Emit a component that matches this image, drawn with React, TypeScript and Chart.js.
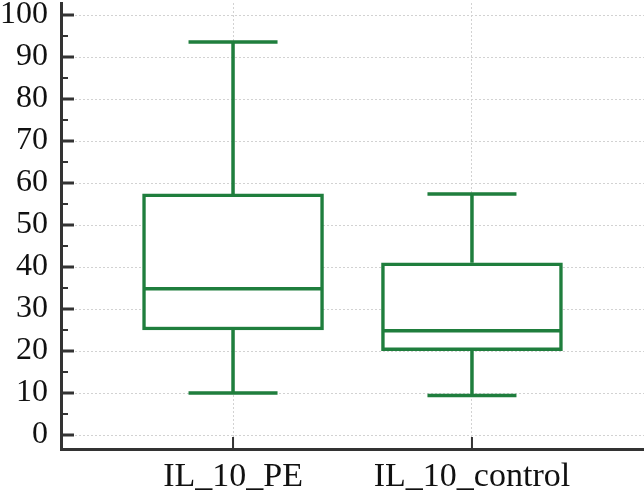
import React, { useEffect, useRef } from 'react';
import { Chart, registerables } from 'chart.js';

Chart.register(...registerables);

const categories = ['IL_10_PE', 'IL_10_control'];
const categoryPositions = [1, 2];
const whiskerLow = [10.0, 9.4];
const quartile1 = [25.0, 20.1];
const medians = [34.8, 24.8];
const quartile3 = [57.4, 41.0];
const whiskerHigh = [93.6, 57.4];
const yTickValues = [0, 10, 20, 30, 40, 50, 60, 70, 80, 90, 100];
const yMinorTickValues = [5, 15, 25, 35, 45, 55, 65, 75, 85, 95];

const GREEN = '#1f7e3d';
const AXIS = '#333333';
const GRID = '#d2d2d2';
const BOX_WIDTH = 181;
const CAP_WIDTH = 89;
const LINE_W = 3.5;

const boxPlugin = {
  id: 'boxWhiskers',
  afterDatasetsDraw(chart: any) {
    const xs = chart.scales.x;
    const ys = chart.scales.y;
    const ctx = chart.ctx;
    ctx.save();
    ctx.strokeStyle = GREEN;
    ctx.lineWidth = LINE_W;
    ctx.lineCap = 'butt';
    categoryPositions.forEach((pos, i) => {
      const cx = xs.getPixelForValue(pos);
      const yMed = ys.getPixelForValue(medians[i]);
      const yQ1 = ys.getPixelForValue(quartile1[i]);
      const yQ3 = ys.getPixelForValue(quartile3[i]);
      const yLo = ys.getPixelForValue(whiskerLow[i]);
      const yHi = ys.getPixelForValue(whiskerHigh[i]);
      ctx.beginPath();
      ctx.moveTo(cx - BOX_WIDTH / 2 + 1, yMed);
      ctx.lineTo(cx + BOX_WIDTH / 2 - 1, yMed);
      ctx.moveTo(cx, yQ3);
      ctx.lineTo(cx, yHi);
      ctx.moveTo(cx, yQ1);
      ctx.lineTo(cx, yLo);
      ctx.moveTo(cx - CAP_WIDTH / 2, yHi);
      ctx.lineTo(cx + CAP_WIDTH / 2, yHi);
      ctx.moveTo(cx - CAP_WIDTH / 2, yLo);
      ctx.lineTo(cx + CAP_WIDTH / 2, yLo);
      ctx.stroke();
    });
    ctx.restore();
  },
  afterDraw(chart: any) {
    const xs = chart.scales.x;
    const ys = chart.scales.y;
    const ctx = chart.ctx;
    const { left, bottom } = chart.chartArea;
    ctx.save();
    ctx.strokeStyle = AXIS;
    ctx.lineWidth = 3;
    ctx.beginPath();
    yTickValues.forEach((v) => {
      const y = ys.getPixelForValue(v);
      ctx.moveTo(left, y);
      ctx.lineTo(left + 13, y);
    });
    ctx.stroke();
    ctx.lineWidth = 2;
    ctx.beginPath();
    yMinorTickValues.forEach((v) => {
      const y = ys.getPixelForValue(v);
      ctx.moveTo(left, y);
      ctx.lineTo(left + 7, y);
    });
    categoryPositions.forEach((p) => {
      const x = xs.getPixelForValue(p);
      ctx.moveTo(x, bottom);
      ctx.lineTo(x, bottom - 12);
    });
    ctx.stroke();
    ctx.restore();
  },
};

export default function App() {
  const canvasRef = useRef<HTMLCanvasElement | null>(null);

  useEffect(() => {
    if (!canvasRef.current) return;
    const chart = new Chart(canvasRef.current, {
      type: 'bar',
      data: {
        datasets: [
          {
            label: 'box',
            data: categoryPositions.map((p, i) => ({ x: p, y: [quartile1[i], quartile3[i]] })) as any,
            backgroundColor: '#ffffff',
            borderColor: GREEN,
            borderWidth: LINE_W,
            borderSkipped: false,
            barThickness: BOX_WIDTH,
          },
        ],
      },
      options: {
        animation: false,
        responsive: true,
        maintainAspectRatio: false,
        layout: { padding: { top: 3, right: 0, bottom: 0, left: 0 } },
        plugins: { legend: { display: false }, tooltip: { enabled: false } },
        scales: {
          x: {
            type: 'linear',
            offset: false,
            min: 0.28,
            max: 2.72,
            afterBuildTicks: (s: any) => {
              s.ticks = categoryPositions.map((v) => ({ value: v }));
            },
            afterFit: (s: any) => {
              s.paddingLeft = 0;
              s.paddingRight = 0;
              s.paddingTop = 0;
              s.paddingBottom = 0;
              s.height = 47;
            },
            ticks: {
              autoSkip: false,
              maxRotation: 0,
              padding: 8,
              color: '#111111',
              font: { family: 'Liberation Serif', size: 34 },
              callback: (v: any) => {
                const idx = categoryPositions.indexOf(Number(v));
                return idx >= 0 ? categories[idx] : '';
              },
            },
            grid: { drawTicks: false, offset: false, color: GRID, lineWidth: 1 },
            border: { display: true, color: AXIS, width: 3, dash: [2, 2] },
          },
          y: {
            type: 'linear',
            min: -3.33,
            max: 102.86,
            afterBuildTicks: (s: any) => {
              s.ticks = yTickValues.map((v) => ({ value: v }));
            },
            afterFit: (s: any) => {
              s.paddingTop = 0;
              s.paddingBottom = 0;
              s.width = 61;
            },
            ticks: {
              padding: 13,
              color: '#111111',
              font: { family: 'Liberation Serif', size: 32 },
            },
            grid: { drawTicks: false, color: GRID, lineWidth: 1 },
            border: { display: true, color: AXIS, width: 3, dash: [2, 2] },
          },
        },
      },
      plugins: [boxPlugin],
    });
    return () => chart.destroy();
  }, []);

  return (
    <div style={{ position: 'fixed', left: 0, top: 0, width: 644, height: 496, background: '#ffffff' }}>
      <canvas ref={canvasRef} />
    </div>
  );
}
